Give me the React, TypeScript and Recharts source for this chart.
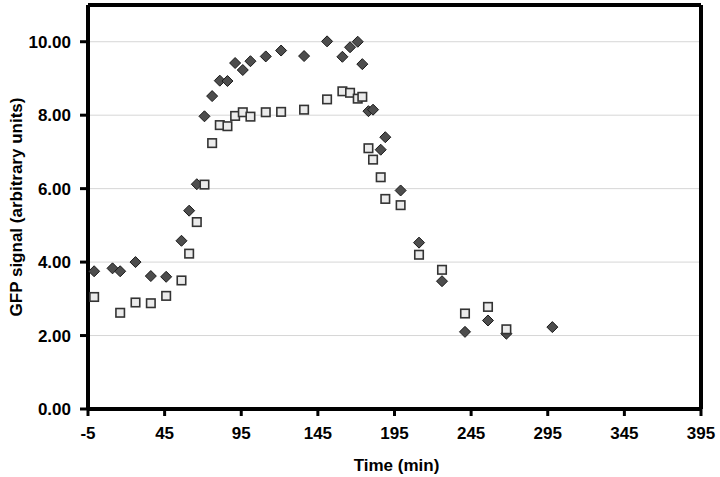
import { ScatterChart, Scatter, XAxis, YAxis, CartesianGrid, ReferenceLine } from 'recharts';

// dark diamonds
const timesA = [-1, 11, 16, 26, 36, 46, 56, 61, 66, 71, 76, 81, 86, 91, 96, 101, 111, 121, 136, 151, 161, 166, 171, 174, 178, 181, 186, 189, 199, 211, 226, 241, 256, 268, 298];
const gfpA = [3.75, 3.83, 3.75, 4.0, 3.62, 3.6, 4.58, 5.4, 6.12, 7.97, 8.52, 8.94, 8.93, 9.42, 9.23, 9.47, 9.6, 9.76, 9.61, 10.01, 9.59, 9.85, 10.0, 9.39, 8.11, 8.15, 7.06, 7.4, 5.95, 4.53, 3.48, 2.1, 2.41, 2.05, 2.23];

// light squares
const timesB = [-1, 16, 26, 36, 46, 56, 61, 66, 71, 76, 81, 86, 91, 96, 101, 111, 121, 136, 151, 161, 166, 171, 174, 178, 181, 186, 189, 199, 211, 226, 241, 256, 268];
const gfpB = [3.05, 2.62, 2.9, 2.88, 3.08, 3.5, 4.23, 5.09, 6.11, 7.24, 7.73, 7.7, 7.98, 8.08, 7.96, 8.08, 8.09, 8.15, 8.43, 8.65, 8.61, 8.45, 8.5, 7.1, 6.79, 6.31, 5.72, 5.55, 4.2, 3.79, 2.6, 2.78, 2.17];

const xTicks = [-5, 45, 95, 145, 195, 245, 295, 345, 395];
const yTicks = [0, 2, 4, 6, 8, 10];

const seriesA = timesA.map((t, i) => ({ t, v: gfpA[i] }));
const seriesB = timesB.map((t, i) => ({ t, v: gfpB[i] }));

const font = "'Liberation Sans', Arial, sans-serif";
const tickStyle = { fill: '#000', fontSize: 17, fontWeight: 700, fontFamily: font };

// eslint-disable-next-line @typescript-eslint/no-explicit-any
function Diamond({ cx, cy }: any) {
  const r = 5.5;
  return (
    <path
      d={`M${cx},${cy - r} L${cx + r},${cy} L${cx},${cy + r} L${cx - r},${cy} Z`}
      fill="#4d4d4d"
      stroke="#1a1a1a"
      strokeWidth={1}
    />
  );
}

// eslint-disable-next-line @typescript-eslint/no-explicit-any
function Square({ cx, cy }: any) {
  const s = 8.5;
  return (
    <rect x={cx - s / 2} y={cy - s / 2} width={s} height={s} fill="#ebebeb" stroke="#333" strokeWidth={1.6} />
  );
}

// eslint-disable-next-line @typescript-eslint/no-explicit-any
function YLabel({ viewBox }: any) {
  const cy = viewBox.y + viewBox.height / 2;
  return (
    <text
      x={16}
      y={cy}
      transform={`rotate(-90, 16, ${cy})`}
      textAnchor="middle"
      dominantBaseline="central"
      style={tickStyle}
    >
      GFP signal (arbitrary units)
    </text>
  );
}

// eslint-disable-next-line @typescript-eslint/no-explicit-any
function XLabel({ viewBox }: any) {
  const cx = viewBox.x + viewBox.width / 2;
  return (
    <text x={cx + 2} y={465} textAnchor="middle" dominantBaseline="central" style={tickStyle}>
      Time (min)
    </text>
  );
}

export default function App() {
  return (
    <div style={{ position: 'absolute', left: 0, top: 0, background: '#fff' }}>
      <ScatterChart width={720} height={477} margin={{ top: 5, right: 19, bottom: 0, left: 0 }}>
        <CartesianGrid vertical={false} stroke="#d6d6d6" strokeWidth={1} />
        <XAxis
          type="number"
          dataKey="t"
          domain={[-5, 395]}
          ticks={xTicks}
          interval={0}
          height={68}
          tick={tickStyle}
          tickSize={7}
          tickMargin={11}
          axisLine={{ stroke: '#000', strokeWidth: 4 }}
          tickLine={{ stroke: '#000', strokeWidth: 3 }}
          label={<XLabel />}
        />
        <YAxis
          type="number"
          dataKey="v"
          domain={[0, 11]}
          ticks={yTicks}
          interval={0}
          width={88}
          tick={tickStyle}
          tickSize={8}
          tickMargin={9}
          tickFormatter={(v: number) => v.toFixed(2)}
          axisLine={{ stroke: '#000', strokeWidth: 4 }}
          tickLine={{ stroke: '#000', strokeWidth: 3 }}
          label={<YLabel />}
        />
        <ReferenceLine y={11} stroke="#000" strokeWidth={4} />
        <ReferenceLine x={395} stroke="#000" strokeWidth={4} />
        <Scatter data={seriesA} shape={<Diamond />} isAnimationActive={false} />
        <Scatter data={seriesB} shape={<Square />} isAnimationActive={false} />
      </ScatterChart>
    </div>
  );
}
